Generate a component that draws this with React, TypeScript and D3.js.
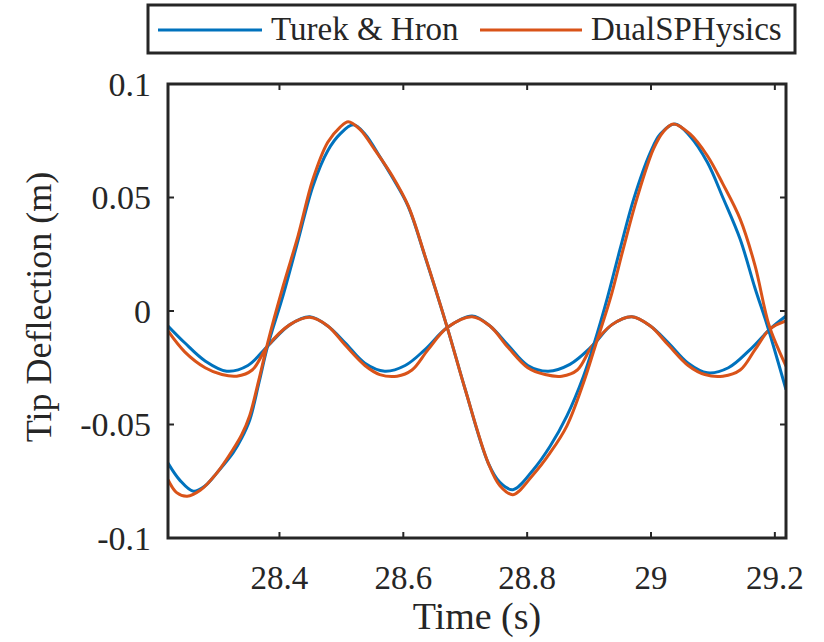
import React from "react";
import * as d3 from "d3";

// Time (s) and tip deflection (m)
const turekYTime = [28.220, 28.239, 28.261, 28.280, 28.299, 28.325, 28.339, 28.352, 28.367, 28.381, 28.406, 28.430, 28.454, 28.478, 28.498, 28.519, 28.538, 28.562, 28.582, 28.608, 28.635, 28.671, 28.700, 28.737, 28.756, 28.777, 28.810, 28.837, 28.864, 28.891, 28.907, 28.929, 28.950, 28.972, 28.999, 29.015, 29.039, 29.063, 29.091, 29.116, 29.144, 29.168, 29.188, 29.218];
const turekYValue = [-0.067, -0.0745, -0.0794, -0.077, -0.0713, -0.0625, -0.056, -0.048, -0.0315, -0.0154, 0.007, 0.031, 0.055, 0.0706, 0.078, 0.082, 0.078, 0.068, 0.059, 0.046, 0.024, -0.0073, -0.0346, -0.0669, -0.0755, -0.0787, -0.0699, -0.0596, -0.0463, -0.0287, -0.0154, 0.0052, 0.0272, 0.0493, 0.0699, 0.078, 0.0824, 0.077, 0.0655, 0.050, 0.0316, 0.010, -0.0066, -0.0346];

const sphYTime = [28.220, 28.234, 28.251, 28.272, 28.299, 28.325, 28.339, 28.352, 28.367, 28.381, 28.406, 28.430, 28.454, 28.478, 28.498, 28.511, 28.530, 28.554, 28.582, 28.608, 28.635, 28.671, 28.700, 28.737, 28.756, 28.777, 28.810, 28.837, 28.864, 28.891, 28.910, 28.934, 28.955, 28.977, 29.004, 29.020, 29.036, 29.063, 29.091, 29.116, 29.144, 29.168, 29.191, 29.218];
const sphYValue = [-0.0743, -0.080, -0.0816, -0.079, -0.0713, -0.061, -0.0545, -0.046, -0.030, -0.014, 0.011, 0.0331, 0.058, 0.0743, 0.081, 0.0834, 0.080, 0.071, 0.0596, 0.0463, 0.0243, -0.0073, -0.0346, -0.0669, -0.077, -0.0809, -0.072, -0.0625, -0.0507, -0.0316, -0.0154, 0.0052, 0.0272, 0.0493, 0.0714, 0.079, 0.0824, 0.078, 0.0684, 0.056, 0.0405, 0.020, -0.0066, -0.0243];

const turekXTime = [28.220, 28.247, 28.280, 28.315, 28.349, 28.381, 28.417, 28.449, 28.478, 28.506, 28.538, 28.570, 28.603, 28.635, 28.671, 28.711, 28.740, 28.769, 28.801, 28.834, 28.869, 28.905, 28.937, 28.969, 28.999, 29.028, 29.060, 29.091, 29.125, 29.160, 29.192, 29.218];
const turekXValue = [-0.0066, -0.014, -0.022, -0.0265, -0.024, -0.0154, -0.006, -0.0025, -0.0066, -0.014, -0.023, -0.0265, -0.024, -0.017, -0.0073, -0.0022, -0.0066, -0.015, -0.024, -0.0265, -0.0235, -0.0154, -0.006, -0.0025, -0.0066, -0.014, -0.023, -0.0272, -0.025, -0.017, -0.008, -0.0022];

const sphXTime = [28.220, 28.247, 28.280, 28.307, 28.331, 28.356, 28.381, 28.417, 28.449, 28.478, 28.506, 28.538, 28.562, 28.590, 28.614, 28.640, 28.671, 28.711, 28.740, 28.769, 28.801, 28.829, 28.856, 28.881, 28.905, 28.937, 28.969, 28.999, 29.028, 29.060, 29.087, 29.116, 29.144, 29.168, 29.192, 29.218];
const sphXValue = [-0.0088, -0.018, -0.025, -0.028, -0.0287, -0.026, -0.0154, -0.006, -0.0028, -0.0066, -0.015, -0.024, -0.028, -0.0287, -0.026, -0.017, -0.0073, -0.0025, -0.0066, -0.016, -0.025, -0.028, -0.0287, -0.026, -0.0154, -0.006, -0.0025, -0.0066, -0.015, -0.024, -0.028, -0.0287, -0.026, -0.017, -0.008, -0.0044];

const xTicks = [28.4, 28.6, 28.8, 29, 29.2];
const xTickLabels = ["28.4", "28.6", "28.8", "29", "29.2"];
const yTicks = [-0.1, -0.05, 0, 0.05, 0.1];
const yTickLabels = ["-0.1", "-0.05", "0", "0.05", "0.1"];
const seriesNames = ["Turek & Hron", "DualSPHysics"];
const seriesColors = ["#0072BD", "#D95319"];

const W = 824, H = 642;
const left = 168, right = 786, top = 84, bottom = 538;
const FONT = "Liberation Serif, Times New Roman, DejaVu Serif, serif";
const AX = "#262626";

export default function App() {
  const x = d3.scaleLinear().domain([28.22, 29.218]).range([left, right]);
  const y = d3.scaleLinear().domain([-0.1, 0.1]).range([bottom, top]);
  const line = d3
    .line<[number, number]>()
    .x((d) => x(d[0]))
    .y((d) => y(d[1]))
    .curve(d3.curveCatmullRom.alpha(0.5));
  const zip = (t: number[], v: number[]) => t.map((tt, i) => [tt, v[i]] as [number, number]);
  const lines = [
    { d: zip(turekXTime, turekXValue), c: seriesColors[0] },
    { d: zip(sphXTime, sphXValue), c: seriesColors[1] },
    { d: zip(turekYTime, turekYValue), c: seriesColors[0] },
    { d: zip(sphYTime, sphYValue), c: seriesColors[1] },
  ];
  const tickLen = 6;
  return (
    <svg width={W} height={H} style={{ position: "absolute", left: 0, top: 0, background: "#fff" }}>
      <rect x={0} y={0} width={W} height={H} fill="#fff" />
      <defs>
        <clipPath id="plot">
          <rect x={left} y={top} width={right - left} height={bottom - top} />
        </clipPath>
      </defs>
      <g clipPath="url(#plot)">
        {lines.map((l, i) => (
          <path key={i} d={line(l.d) || ""} fill="none" stroke={l.c} strokeWidth={3} strokeLinejoin="round" />
        ))}
      </g>
      {xTicks.map((t, i) => (
        <g key={"xt" + i}>
          <line x1={x(t)} x2={x(t)} y1={bottom} y2={bottom - tickLen} stroke={AX} strokeWidth={2} />
          <line x1={x(t)} x2={x(t)} y1={top} y2={top + tickLen} stroke={AX} strokeWidth={2} />
          <text x={x(t)} y={589} textAnchor="middle" fontFamily={FONT} fontSize={33} fill={AX}>
            {xTickLabels[i]}
          </text>
        </g>
      ))}
      {yTicks.map((t, i) => (
        <g key={"yt" + i}>
          <line x1={left} x2={left + tickLen} y1={y(t)} y2={y(t)} stroke={AX} strokeWidth={2} />
          <line x1={right} x2={right - tickLen} y1={y(t)} y2={y(t)} stroke={AX} strokeWidth={2} />
          <text x={151} y={y(t)} dy="0.35em" textAnchor="end" fontFamily={FONT} fontSize={34} fill={AX}>
            {yTickLabels[i]}
          </text>
        </g>
      ))}
      <rect x={left} y={top} width={right - left} height={bottom - top} fill="none" stroke={AX} strokeWidth={3} />
      <text x={(left + right) / 2} y={629} textAnchor="middle" fontFamily={FONT} fontSize={38} fill={AX}>
        Time (s)
      </text>
      <text
        transform={`translate(51, ${(top + bottom) / 2 - 4}) rotate(-90)`}
        textAnchor="middle"
        fontFamily={FONT}
        fontSize={36}
        fill={AX}
      >
        Tip Deflection (m)
      </text>
      <rect x={148} y={5} width={647} height={48} fill="#fff" stroke={AX} strokeWidth={3} />
      <line x1={158} x2={262} y1={30} y2={30} stroke={seriesColors[0]} strokeWidth={3} />
      <text x={271} y={40} fontFamily={FONT} fontSize={33} fill={AX}>
        {seriesNames[0]}
      </text>
      <line x1={480} x2={582} y1={30} y2={30} stroke={seriesColors[1]} strokeWidth={3} />
      <text x={591} y={40} fontFamily={FONT} fontSize={33} fill={AX}>
        {seriesNames[1]}
      </text>
    </svg>
  );
}
